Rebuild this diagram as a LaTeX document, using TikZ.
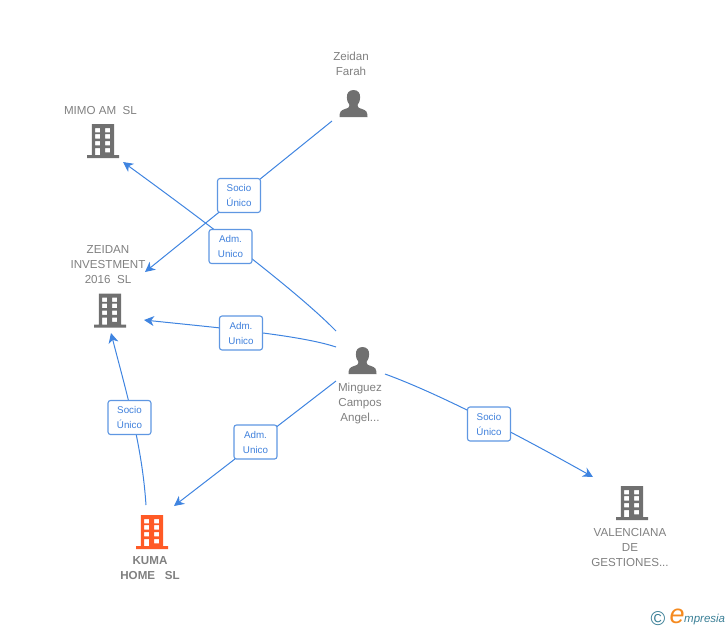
\documentclass[tikz,border=0pt]{standalone}
\usepackage{fontspec}
\setmainfont{Liberation Sans}
\usetikzlibrary{arrows.meta}
\definecolor{edgeblue}{HTML}{3F84E0}
\definecolor{boxblue}{HTML}{5F97E2}
\definecolor{labelblue}{HTML}{3F80DC}
\definecolor{icongrey}{HTML}{707070}
\definecolor{textgrey}{HTML}{808080}
\definecolor{kumaorange}{HTML}{FF5A26}
\definecolor{logoteal}{HTML}{3A7F96}
\definecolor{logoorange}{HTML}{F58A1F}
\tikzset{
  x=1pt,y=-1pt,
  conn/.style={draw=edgeblue,line width=1pt,-{Stealth[length=10pt,width=10pt,inset=3pt]}},
  rolebox/.style={draw=boxblue,line width=1.1pt,fill=white,rounded corners=2.5pt,minimum width=43pt,minimum height=34pt,inner sep=0pt,align=center,text=labelblue,font=\fontsize{9.8}{15}\selectfont},
  nametext/.style={align=center,text=textgrey,inner sep=0pt,font=\fontsize{11.6}{15}\selectfont},
  building/.pic={
    \fill[pic actions,even odd rule]
      (-16,-3) -- (-11.2,-3) -- (-11.2,-34) -- (11.2,-34) -- (11.2,-3) -- (16,-3) -- (16,0) -- (-16,0) -- cycle
      (-7.8,-30) rectangle (-2.8,-25.6)
      (2.2,-30) rectangle (7.2,-25.6)
      (-7.8,-23.8) rectangle (-2.8,-19.4)
      (2.2,-23.8) rectangle (7.2,-19.4)
      (-7.8,-17) rectangle (-2.8,-12.6)
      (2.2,-17) rectangle (7.2,-12.6)
      (-7.8,-10) rectangle (-2.8,-3)
      (2.2,-10) rectangle (7.2,-5.6);
  },
  person/.pic={
    \fill[pic actions]
      (0,0) .. controls (4.8,0) and (6.8,3.5) .. (6.6,7.5)
      .. controls (6.5,11) and (5.2,13.5) .. (4,15)
      .. controls (3.8,17) and (5,18) .. (8.5,19)
      .. controls (12.5,20.3) and (14,21.5) .. (14,27)
      -- (-14,27)
      .. controls (-14,21.5) and (-12.5,20.3) .. (-8.5,19)
      .. controls (-5,18) and (-3.8,17) .. (-4,15)
      .. controls (-5.2,13.5) and (-6.5,11) .. (-6.6,7.5)
      .. controls (-6.8,3.5) and (-4.8,0) .. (0,0) -- cycle;
  },
}
\begin{document}
\begin{tikzpicture}
\useasboundingbox (0,0) rectangle (728,630);

% connector ends
\coordinate (farahOut) at (332,121);
\coordinate (zeidanInA) at (145,272);
\coordinate (minMimo) at (336,331);
\coordinate (mimoIn) at (123,162);
\coordinate (minZeidan) at (336,347);
\coordinate (zeidanInB) at (144,320);
\coordinate (minKuma) at (336,381);
\coordinate (kumaIn) at (174,506);
\coordinate (minVal) at (385,374);
\coordinate (valIn) at (593,477);
\coordinate (kumaOut) at (146,505);
\coordinate (zeidanInC) at (111,333);

% connectors
\draw[conn] (farahOut) -- (zeidanInA);
\draw[conn] (minMimo) .. controls (296,290) and (200,218) .. (mimoIn);
\draw[conn] (minZeidan) .. controls (300,335) and (220,328) .. (zeidanInB);
\draw[conn] (minKuma) -- (kumaIn);
\draw[conn] (minVal) .. controls (440,394) and (520,436) .. (valIn);
\draw[conn] (kumaOut) .. controls (142,445) and (127,395) .. (zeidanInC);

% role boxes
\node[rolebox] (roleFarah) at (239,195.5) {Socio\\Único};
\node[rolebox] (roleMimo) at (230.5,246.5) {Adm.\ \\Unico};
\node[rolebox] (roleZeidan) at (241,333) {Adm.\ \\Unico};
\node[rolebox] (roleKumaZ) at (129.5,417.5) {Socio\\Único};
\node[rolebox] (roleKuma) at (255.5,442) {Adm.\ \\Unico};
\node[rolebox] (roleVal) at (489,424) {Socio\\Único};

% icons
\pic[fill=icongrey] at (103,158) {building};
\pic[fill=icongrey] at (110,327.5) {building};
\pic[fill=kumaorange] at (152,549) {building};
\pic[fill=icongrey] at (632,520) {building};
\pic[fill=icongrey] at (353.5,90) {person};
\pic[fill=icongrey] at (362.5,347) {person};

% names
\node[nametext] (farah) at (351,63.5) {Zeidan\\Farah};
\node[nametext] (mimo) at (100.5,110.5) {MIMO AM\ \ SL};
\node[nametext] (zeidan) at (108,264.5) {ZEIDAN\\INVESTMENT\\2016\ \ SL};
\node[nametext] (minguez) at (360,403) {Minguez\\Campos\\Angel...};
\node[nametext,font=\fontsize{11.6}{15}\selectfont\bfseries] (kuma) at (150,568) {KUMA\\HOME\ \ \ SL};
\node[nametext] (valenciana) at (630,547.5) {VALENCIANA\\DE\\GESTIONES...};

% logo
\node[inner sep=0pt,text=logoteal,font=\fontsize{20}{20}\selectfont] (logoC) at (658,619) {©};
\node[inner sep=0pt,text=logoorange,font=\fontsize{27}{27}\selectfont\itshape] (logoE) at (677,616) {e};
\node[inner sep=0pt,anchor=west,text=logoteal,font=\fontsize{11.5}{12}\selectfont\itshape] (logoT) at (684,620) {mpresia};
\end{tikzpicture}
\end{document}
